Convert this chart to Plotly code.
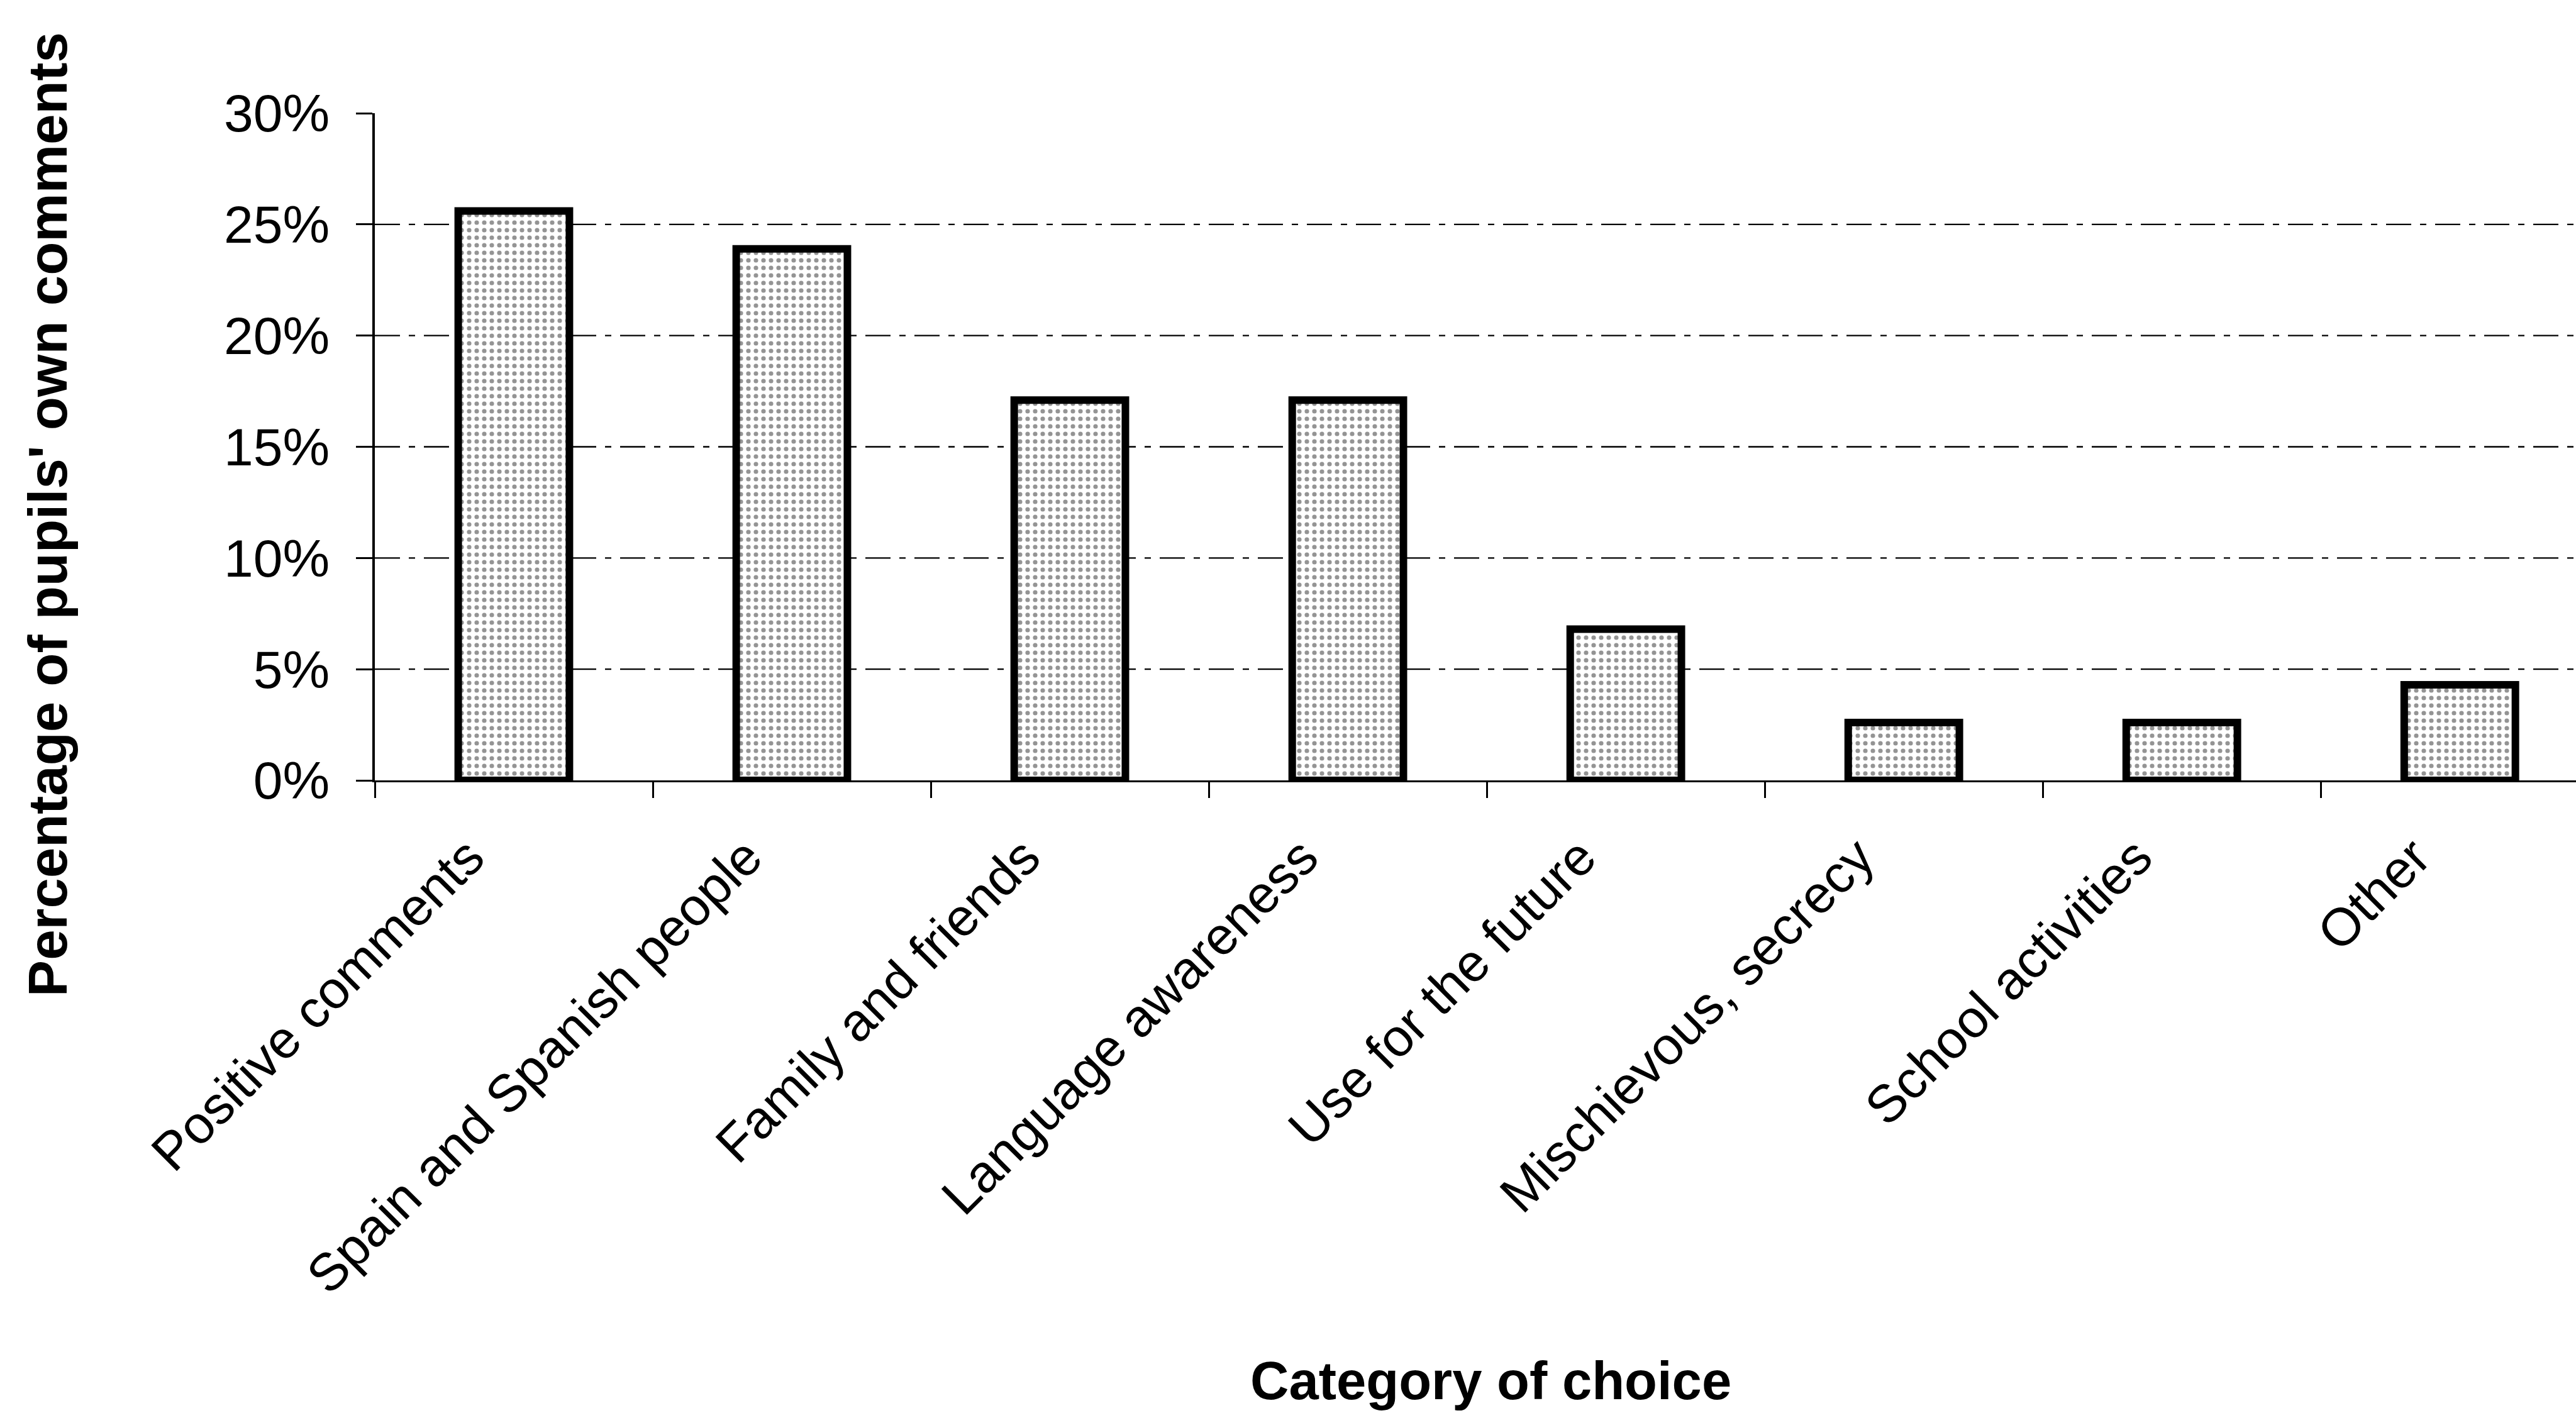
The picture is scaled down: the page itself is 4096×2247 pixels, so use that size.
import plotly.graph_objects as go

# Share of pupils' own comments by category of choice (percent)
categories = [
    "Positive comments",
    "Spain and Spanish people",
    "Family and friends",
    "Language awareness",
    "Use for the future",
    "Mischievous, secrecy",
    "School activities",
    "Other",
]
percentages = [25.6, 23.9, 17.1, 17.1, 6.8, 2.6, 2.6, 4.3]

y_ticks = [0, 5, 10, 15, 20, 25, 30]
y_tick_labels = ["0%", "5%", "10%", "15%", "20%", "25%", "30%"]
grid_levels = [5, 10, 15, 20, 25]

FONT = "Liberation Sans, Arial, sans-serif"
W, H = 4096, 2247
M_L, M_R, M_T, M_B = 596, 0, 180, 1006

fig = go.Figure()
fig.add_trace(
    go.Bar(
        x=categories,
        y=percentages,
        width=0.4,
        marker=dict(
            color="white",
            line=dict(color="black", width=12),
            pattern=dict(shape=".", fgcolor="#2a2a2a", bgcolor="white",
                         size=12, solidity=0.28),
        ),
        showlegend=False,
        hoverinfo="x+y",
    )
)

# dashed horizontal gridlines (none at the top of the axis)
for lvl in grid_levels:
    fig.add_shape(
        type="line", xref="paper", yref="y",
        x0=0, x1=1, y0=lvl, y1=lvl,
        line=dict(color="black", width=2.4, dash="40px,14px,10px,14px"),
        layer="below",
    )

fig.update_layout(
    width=W, height=H,
    margin=dict(l=M_L, r=M_R, t=M_T, b=M_B, pad=0),
    paper_bgcolor="white", plot_bgcolor="white",
    font=dict(family=FONT, color="black", size=84),
    bargap=0.6,
)

fig.update_xaxes(
    type="category",
    range=[-0.5, 7.418],
    showgrid=False,
    showline=True, linecolor="black", linewidth=3,
    ticks="outside", tickson="boundaries", ticklen=25, tickwidth=3, tickcolor="black",
    tickangle=-45,
    ticklabelshift=-72, ticklabelstandoff=36,
    tickfont=dict(family=FONT, size=84, color="black"),
    zeroline=False,
)

fig.update_yaxes(
    range=[0, 30],
    tickmode="array", tickvals=y_ticks, ticktext=y_tick_labels,
    showgrid=False, zeroline=False,
    showline=True, linecolor="black", linewidth=4,
    ticks="outside", ticklen=26, tickwidth=3, tickcolor="black",
    ticklabelstandoff=25,
    tickfont=dict(family=FONT, size=84, color="black"),
)

fig.add_annotation(
    text="<b>Percentage of pupils' own comments</b>",
    xref="paper", yref="paper", x=-0.1486, y=0.3987,
    xanchor="center", yanchor="middle", textangle=-90, showarrow=False,
    font=dict(family=FONT, size=87, color="black"),
)
fig.add_annotation(
    text="<b>Category of choice</b>",
    xref="paper", yref="paper", x=0.507, y=-0.900,
    xanchor="center", yanchor="middle", showarrow=False,
    font=dict(family=FONT, size=85, color="black"),
)

fig.write_html("out.html")
